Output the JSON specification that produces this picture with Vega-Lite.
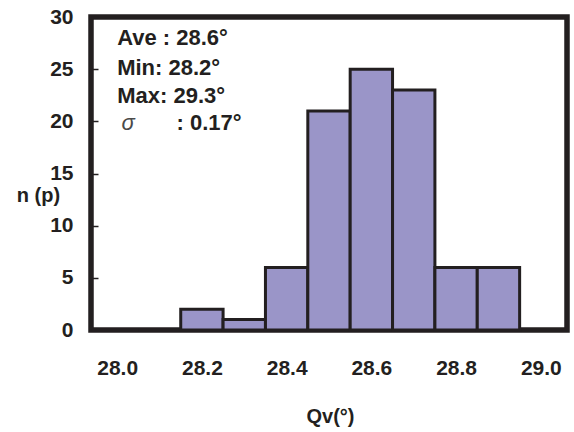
{
  "$schema": "https://vega.github.io/schema/vega-lite/v6.json",
  "width": 476,
  "height": 313,
  "autosize": {"type": "none"},
  "padding": {"left": 91, "top": 17, "right": 7, "bottom": 102},
  "background": "white",
  "view": {"stroke": "#231f20", "strokeWidth": 5.5},
  "config": {
    "font": "Liberation Sans"
  },
  "datasets": {
    "bins": [
      {"lo": 27.95, "hi": 28.05, "n": 0},
      {"lo": 28.05, "hi": 28.15, "n": 0},
      {"lo": 28.15, "hi": 28.25, "n": 2},
      {"lo": 28.25, "hi": 28.35, "n": 1},
      {"lo": 28.35, "hi": 28.45, "n": 6},
      {"lo": 28.45, "hi": 28.55, "n": 21},
      {"lo": 28.55, "hi": 28.65, "n": 25},
      {"lo": 28.65, "hi": 28.75, "n": 23},
      {"lo": 28.75, "hi": 28.85, "n": 6},
      {"lo": 28.85, "hi": 28.95, "n": 6}
    ],
    "notes": [
      {"label": "Ave : 28.6°", "x": 28.0, "y": 28.0},
      {"label": "Min: 28.2°", "x": 28.0, "y": 25.15},
      {"label": "Max: 29.3°", "x": 28.0, "y": 22.45},
      {"label": ": 0.17°", "x": 28.14, "y": 19.8}
    ],
    "sigma": [
      {"label": "σ", "x": 28.01, "y": 19.8}
    ]
  },
  "layer": [
    {
      "data": {"name": "bins"},
      "mark": {"type": "bar", "fill": "#9a95c8", "stroke": "#231f20", "strokeWidth": 3, "orient": "vertical"},
      "encoding": {
        "x": {
          "field": "lo", "type": "quantitative",
          "scale": {"domain": [27.95, 29.05], "nice": false, "zero": false},
          "axis": {
            "values": [28.0, 28.2, 28.4, 28.6, 28.8, 29.0],
            "format": ".1f",
            "ticks": false, "domain": false, "grid": false,
            "labelFont": "Liberation Sans", "labelFontWeight": "bold", "labelFontSize": 21,
            "labelColor": "#231f20", "labelPadding": 27,
            "title": "Qv(°)", "titleFont": "Liberation Sans", "titleFontWeight": "bold",
            "titleFontSize": 20, "titleColor": "#231f20",
            "titleX": 239, "titleY": 86, "titleBaseline": "middle", "titleAlign": "center"
          }
        },
        "x2": {"field": "hi"},
        "y": {
          "field": "n", "type": "quantitative",
          "scale": {"domain": [0, 30], "nice": false},
          "axis": {
            "values": [0, 5, 10, 15, 20, 25, 30],
            "domain": false, "grid": false,
            "tickSize": -7, "tickColor": "#231f20", "tickWidth": 1.5,
            "labelFont": "Liberation Sans", "labelFontWeight": "bold", "labelFontSize": 21,
            "labelColor": "#231f20", "labelPadding": 25,
            "title": "n (p)", "titleFont": "Liberation Sans", "titleFontWeight": "bold",
            "titleFontSize": 20, "titleColor": "#231f20", "titleAngle": 0,
            "titleX": -53, "titleY": 178, "titleBaseline": "middle", "titleAlign": "center"
          }
        },
        "y2": {"datum": 0}
      }
    },
    {
      "data": {"name": "notes"},
      "mark": {"type": "text", "align": "left", "baseline": "middle", "font": "Liberation Sans", "fontWeight": "bold", "fontSize": 22, "color": "#231f20"},
      "encoding": {
        "x": {"field": "x", "type": "quantitative"},
        "y": {"field": "y", "type": "quantitative"},
        "text": {"field": "label"}
      }
    },
    {
      "data": {"name": "sigma"},
      "mark": {"type": "text", "align": "left", "baseline": "middle", "font": "Liberation Sans", "fontStyle": "italic", "fontSize": 22, "color": "#4a4a4a"},
      "encoding": {
        "x": {"field": "x", "type": "quantitative"},
        "y": {"field": "y", "type": "quantitative"},
        "text": {"field": "label"}
      }
    }
  ]
}
